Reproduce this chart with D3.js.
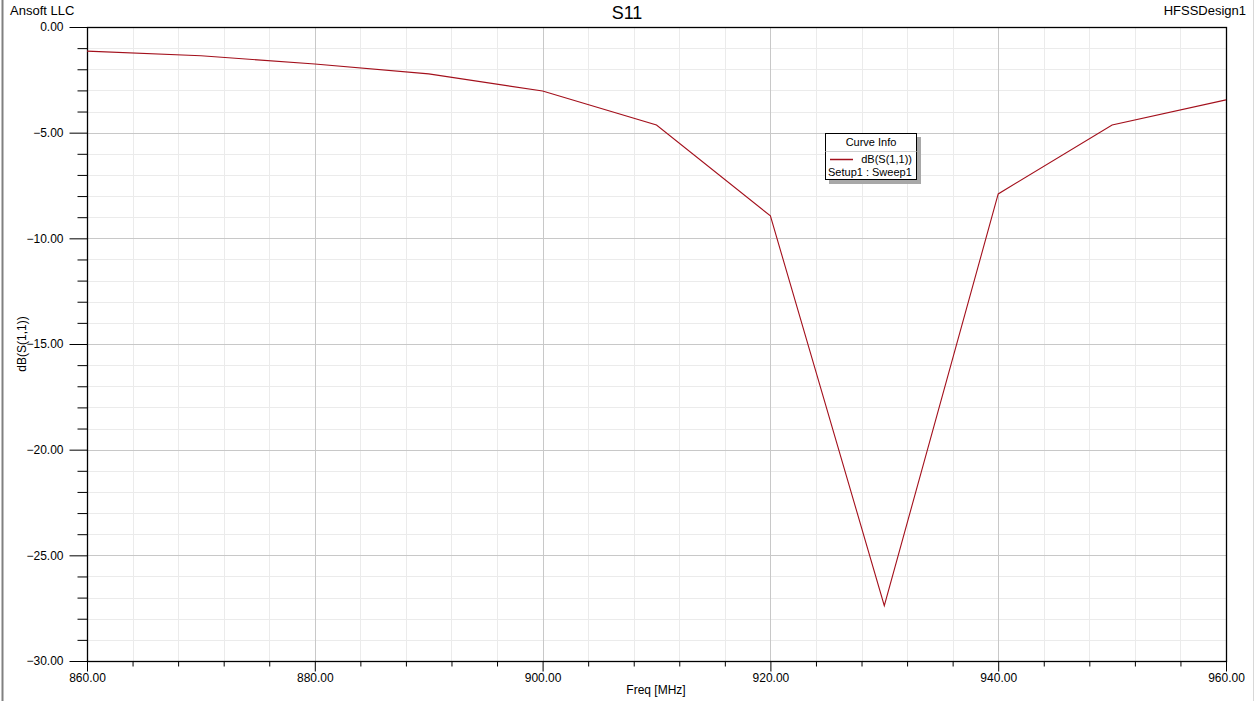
<!DOCTYPE html>
<html><head><meta charset="utf-8">
<script src="https://cdn.jsdelivr.net/npm/d3@7"></script>
<style>body{margin:0;background:#fff;font-family:Arial,"Liberation Sans",sans-serif;}</style>
</head><body><svg id="c" width="1258" height="701"></svg>
<script>
const freqs = [860, 870, 880, 890, 900, 910, 920, 930, 940, 950, 960];
const s11 = [-1.14, -1.36, -1.75, -2.22, -3.03, -4.64, -8.94, -27.38, -7.9, -4.64, -3.45];
const xTicks = [860, 880, 900, 920, 940, 960];
const yTicks = [0, -5, -10, -15, -20, -25, -30];
const title = "S11", leftLabel = "Ansoft LLC", rightLabel = "HFSSDesign1";
const xTitle = "Freq [MHz]", yTitle = "dB(S(1,1))";
const legendTitle = "Curve Info", legendName = "dB(S(1,1))", legendSub = "Setup1 : Sweep1";

const svg = d3.select("#c");
const L = 87, R = 1226, T = 27, B = 661;
const x = d3.scaleLinear().domain([860, 960]).range([L, R]);
const y = d3.scaleLinear().domain([-30, 0]).range([B, T]);
const font = "Arial, 'Liberation Sans', sans-serif";

// page border
svg.append("rect").attr("x",0).attr("y",0).attr("width",1258).attr("height",701).attr("fill","#fff");
svg.append("line").attr("x1",2.5).attr("x2",2.5).attr("y1",0).attr("y2",701).attr("stroke","#808080").attr("stroke-width",2);
svg.append("line").attr("x1",1253.5).attr("x2",1253.5).attr("y1",0).attr("y2",701).attr("stroke","#d8d8d8").attr("stroke-width",1);

// grid
const g = svg.append("g");
const xMinor = d3.range(860, 960.001, 4).filter(v => !xTicks.includes(v));
const yMinor = d3.range(-30, 0.001, 1).filter(v => !yTicks.includes(v));
g.selectAll(".xm").data(xMinor).join("line").attr("x1",d=>Math.round(x(d))+0.5).attr("x2",d=>Math.round(x(d))+0.5)
  .attr("y1",T).attr("y2",B).attr("stroke","#ebebeb");
g.selectAll(".ym").data(yMinor).join("line").attr("y1",d=>Math.round(y(d))+0.5).attr("y2",d=>Math.round(y(d))+0.5)
  .attr("x1",L).attr("x2",R).attr("stroke","#ebebeb");
g.selectAll(".xM").data(xTicks).join("line").attr("x1",d=>Math.round(x(d))+0.5).attr("x2",d=>Math.round(x(d))+0.5)
  .attr("y1",T).attr("y2",B).attr("stroke","#c8c8c8");
g.selectAll(".yM").data(yTicks).join("line").attr("y1",d=>Math.round(y(d))+0.5).attr("y2",d=>Math.round(y(d))+0.5)
  .attr("x1",L).attr("x2",R).attr("stroke","#c8c8c8");

// axes
const yAxis = d3.axisLeft(y).tickValues(yTicks).tickFormat(d3.format(".2f")).tickSize(18).tickPadding(6);
const ya = svg.append("g").attr("transform",`translate(${L+0.5},0)`).call(yAxis);
ya.select(".domain").remove();
ya.selectAll("text").attr("font-size",12).attr("font-family",font).attr("fill","#000");
ya.selectAll(".tick line").attr("stroke","#000");
svg.append("g").attr("transform",`translate(${L+0.5},0)`).call(d3.axisLeft(y).tickValues(yMinor).tickFormat("").tickSize(10)).select(".domain").remove();

const xAxis = d3.axisBottom(x).tickValues(xTicks).tickFormat(d3.format(".2f")).tickSize(10).tickPadding(2);
const xa = svg.append("g").attr("transform",`translate(0,${B+0.5})`).call(xAxis);
xa.select(".domain").remove();
xa.selectAll("text").attr("font-size",12).attr("font-family",font).attr("fill","#000");
svg.append("g").attr("transform",`translate(0,${B+0.5})`).call(d3.axisBottom(x).tickValues(xMinor).tickFormat("").tickSize(5)).select(".domain").remove();

svg.append("rect").attr("x",L+0.5).attr("y",T+0.5).attr("width",R-L).attr("height",B-T)
  .attr("fill","none").attr("stroke","#000").attr("stroke-width",1.3);

// curve
const line = d3.line().x((d,i)=>x(freqs[i])).y(d=>y(d));
svg.append("path").datum(s11).attr("d",line).attr("fill","none").attr("stroke","#a3101c").attr("stroke-width",1.1);

// texts
svg.append("text").attr("x",627).attr("y",19).attr("text-anchor","middle").attr("font-size",18).attr("font-family",font).text(title);
svg.append("text").attr("x",10).attr("y",15).attr("font-size",13).attr("font-family",font).text(leftLabel);
svg.append("text").attr("x",1246).attr("y",15).attr("text-anchor","end").attr("font-size",13).attr("font-family",font).text(rightLabel);
svg.append("text").attr("x",656).attr("y",694).attr("text-anchor","middle").attr("font-size",12).attr("font-family",font).text(xTitle);
svg.append("text").attr("transform","translate(26,344) rotate(-90)").attr("text-anchor","middle").attr("font-size",12).attr("font-family",font).text(yTitle);

// legend
const lg = svg.append("g");
lg.append("rect").attr("x",829).attr("y",137).attr("width",92).attr("height",47).attr("fill","#a8a8a8");
lg.append("rect").attr("x",825.5).attr("y",133.5).attr("width",91).attr("height",46).attr("fill","#fff").attr("stroke","#000");
lg.append("line").attr("x1",825.5).attr("x2",916.5).attr("y1",151.5).attr("y2",151.5).attr("stroke","#d0d0d0");
lg.append("text").attr("x",871).attr("y",146).attr("text-anchor","middle").attr("font-size",11).attr("font-family",font).text(legendTitle);
lg.append("line").attr("x1",830).attr("x2",853).attr("y1",159.5).attr("y2",159.5).attr("stroke","#a3101c").attr("stroke-width",1.5);
lg.append("text").attr("x",912).attr("y",163).attr("text-anchor","end").attr("font-size",11).attr("font-family",font).text(legendName);
lg.append("text").attr("x",828).attr("y",176).attr("font-size",11).attr("font-family",font).text(legendSub);
</script></body></html>
